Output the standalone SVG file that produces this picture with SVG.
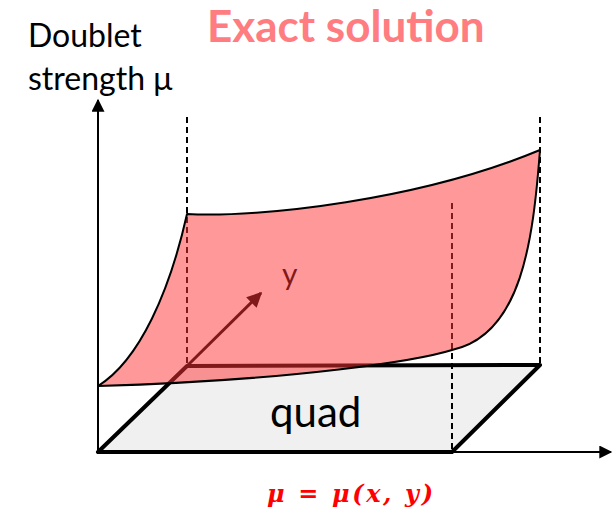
<svg xmlns="http://www.w3.org/2000/svg" width="613" height="514" viewBox="0 0 613 514">
<defs>
<marker id="ah" viewBox="0 0 10 10" refX="9" refY="5" markerWidth="7" markerHeight="6.5" orient="auto" markerUnits="strokeWidth"><path d="M0,0 L10,5 L0,10 z" fill="#000"/></marker>
<marker id="ahy" viewBox="0 0 10 10" refX="9" refY="5" markerWidth="5.5" markerHeight="5" orient="auto" markerUnits="strokeWidth"><path d="M0,0 L10,5 L0,10 z" fill="#000"/></marker>
</defs>
<style>
.lbl{font-family:Lato,"Liberation Sans",sans-serif;fill:#000}
.axis{stroke:#000;stroke-width:2;fill:none}
.dash{stroke:#000;stroke-width:2;stroke-dasharray:6,4;fill:none}
.quad{fill:#f0f0f0;stroke:#000;stroke-width:4;stroke-linejoin:round}
</style>
<rect width="613" height="514" fill="#fff"/>
<g id="title"><text x="207" y="42" font-family="Lato,'Liberation Sans',sans-serif" font-weight="bold" font-size="44" fill="#ff7c80">Exact solution</text></g>
<g id="ylabel"><text class="lbl" x="28" y="47" font-size="32">Doublet</text><text class="lbl" x="28" y="90" font-size="32">strength μ</text></g>
<g id="axes">
<line class="axis" x1="98" y1="452" x2="98" y2="100" marker-end="url(#ah)"/>
<line class="axis" x1="98" y1="452" x2="611" y2="452" marker-end="url(#ah)"/>
</g>
<g id="quad">
<path class="quad" d="M98,452 L452,452 L540,365 L187,366 Z"/>
<text class="lbl" x="270" y="427" font-size="42">quad</text>
</g>
<g id="connectors">
<line class="dash" x1="187" y1="117" x2="187" y2="366"/>
<line class="dash" x1="540" y1="117" x2="540" y2="365"/>
<line class="dash" x1="452" y1="203" x2="452" y2="452"/>
<line x1="187" y1="366" x2="261" y2="293" stroke="#000" stroke-width="3" marker-end="url(#ahy)"/>
</g>
<g id="yaxis-label"><text class="lbl" x="282" y="285" font-size="30">y</text></g>
<g id="surface">
<path d="M187,214 C260,218 420,200 540,150 C533,240 522,335 452,350 C420,360 300,380 98,386 C140,360 170,290 187,214 Z" fill="#ff3333" fill-opacity="0.5" stroke="#000" stroke-width="2" stroke-linejoin="round"/>
</g>
<g id="formula"><text x="267" y="502" font-family="'DejaVu Serif',serif" font-weight="bold" font-style="italic" font-size="24" fill="#ff0000" textLength="166" lengthAdjust="spacing">μ = μ(x, y)</text></g>
</svg>
